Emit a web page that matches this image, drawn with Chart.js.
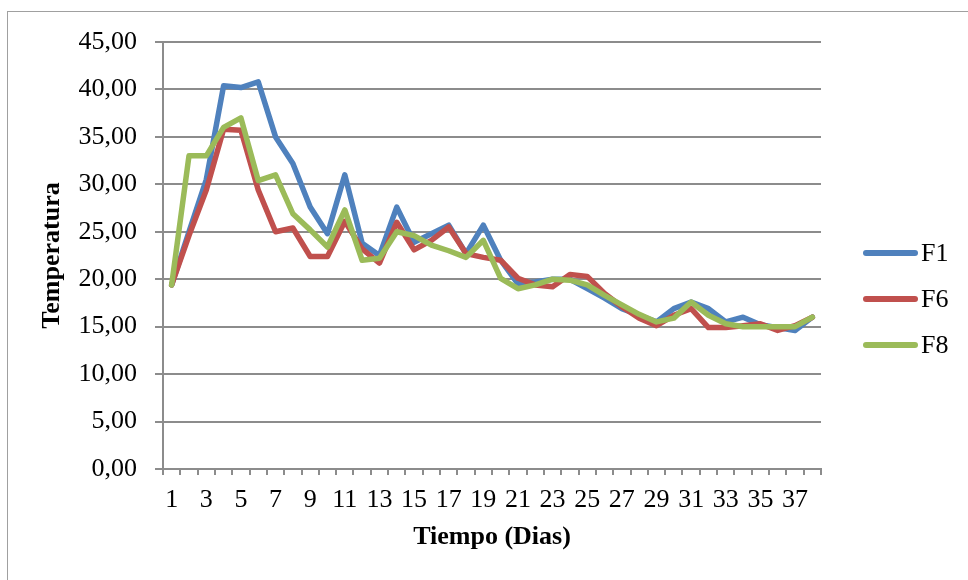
<!DOCTYPE html>
<html><head><meta charset="utf-8">
<script src="https://cdn.jsdelivr.net/npm/chart.js@4/dist/chart.umd.min.js"></script>
<style>
html,body{margin:0;padding:0;background:#fff;overflow:hidden;}
#wrap{position:relative;width:968px;height:580px;overflow:hidden;}
#frame{position:absolute;left:7px;top:11px;width:1000px;height:1000px;border:1.5px solid #a0a0a0;box-sizing:border-box;}
canvas{position:absolute;left:0;top:0;}
</style></head><body>
<div id="wrap"><div id="frame"></div><canvas id="c" width="968" height="580"></canvas></div>
<script>
const days = ['1','2','3','4','5','6','7','8','9','10','11','12','13','14','15','16','17','18','19','20',
  '21','22','23','24','25','26','27','28','29','30','31','32','33','34','35','36','37','38'];
const seriesNames = ['F1','F6','F8'];
const f1 = [19.4,25.0,30.5,40.4,40.2,40.8,35.0,32.2,27.6,24.8,31.0,23.8,22.5,27.6,23.9,24.8,25.7,22.7,25.7,22.0,
  19.5,19.7,20.0,20.0,19.0,18.0,16.9,16.2,15.5,16.9,17.6,16.9,15.5,16.0,15.2,14.9,14.6,16.0];
const f6 = [19.4,24.6,29.4,35.8,35.7,29.4,25.0,25.4,22.4,22.4,26.1,23.2,21.7,26.0,23.1,24.1,25.5,22.7,22.3,22.0,
  20.1,19.4,19.2,20.5,20.3,18.5,17.1,15.9,15.1,16.2,16.9,14.9,14.9,15.1,15.3,14.6,15.1,16.0];
const f8 = [19.4,33.0,33.0,36.0,37.0,30.4,31.0,26.9,25.2,23.4,27.3,22.0,22.2,25.0,24.6,23.6,23.0,22.3,24.1,20.1,
  19.0,19.4,20.0,19.9,19.4,18.3,17.3,16.3,15.5,15.9,17.6,16.2,15.3,15.0,15.0,15.0,15.0,16.0];
const xTitle = 'Tiempo (Dias)';
const yTitle = 'Temperatura';

const FONT = '"Liberation Serif","Times New Roman",serif';
const GRID = '#8c8c8c';
const colors = ['#4F81BD','#C0504D','#9BBB59'];

const legendPlugin = {
  id: 'customLegend',
  afterDraw(chart) {
    const ctx = chart.ctx;
    chart.data.datasets.forEach((ds, i) => {
      const y = 253 + i * 46;
      ctx.save();
      ctx.strokeStyle = ds.borderColor;
      ctx.lineWidth = 6;
      ctx.lineCap = 'round';
      ctx.beginPath();
      ctx.moveTo(866, y);
      ctx.lineTo(915, y);
      ctx.stroke();
      ctx.fillStyle = '#000';
      ctx.font = '26px ' + FONT;
      ctx.textBaseline = 'middle';
      ctx.textAlign = 'left';
      ctx.fillText(ds.label, 921, y + 1);
      ctx.restore();
    });
  }
};

const mk = (label, data, color, order) => ({
  label, data, borderColor: color, backgroundColor: color, order,
  borderWidth: 5.5, pointRadius: 0, tension: 0, fill: false,
  borderJoinStyle: 'round', borderCapStyle: 'round'
});

new Chart(document.getElementById('c'), {
  type: 'line',
  data: {
    labels: days,
    datasets: [mk(seriesNames[0], f1, colors[0], 2), mk(seriesNames[1], f6, colors[1], 1), mk(seriesNames[2], f8, colors[2], 0)]
  },
  options: {
    responsive: false,
    animation: false,
    devicePixelRatio: 1,
    layout: { padding: { top: 42, right: 147, bottom: 0, left: 0 } },
    plugins: { legend: { display: false }, tooltip: { enabled: false } },
    scales: {
      x: {
        offset: true,
        grid: { offset: true, drawOnChartArea: false, drawTicks: true, tickLength: 6, color: GRID, lineWidth: 2 },
        border: { color: GRID, width: 2 },
        ticks: {
          autoSkip: false, maxRotation: 0, minRotation: 0, padding: 10, color: '#000',
          font: { family: FONT, size: 26 },
          callback: (v, i) => (i % 2 === 0 ? days[i] : '')
        },
        title: { display: true, text: xTitle, color: '#000', font: { family: FONT, size: 26, weight: 'bold' }, padding: { top: 0, bottom: 27 } },
        afterFit(s) { s.height = 111; }
      },
      y: {
        min: 0, max: 45,
        grid: { color: GRID, lineWidth: 2, tickLength: 8, drawTicks: true },
        border: { color: GRID, width: 2 },
        ticks: {
          stepSize: 5, padding: 18, color: '#000',
          font: { family: FONT, size: 26 },
          callback: v => Number(v).toFixed(2).replace('.', ',')
        },
        title: { display: true, text: yTitle, color: '#000', font: { family: FONT, size: 26, weight: 'bold' }, padding: { top: 37, bottom: 0 } },
        afterFit(s) { s.width = 163; }
      }
    }
  },
  plugins: [legendPlugin]
});
</script>
</body></html>
